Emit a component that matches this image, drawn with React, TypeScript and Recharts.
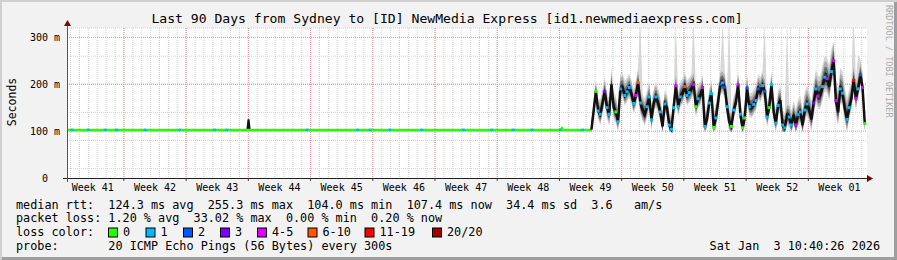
import React from "react";
import { ComposedChart, Line, Area, Scatter, XAxis, YAxis, CartesianGrid } from "recharts";

const FONT = '"DejaVu Sans Mono", monospace';

// time axis is in days since the start of the 90 day window
const WEEK_NAMES = ["Week 41", "Week 42", "Week 43", "Week 44", "Week 45", "Week 46", "Week 47", "Week 48", "Week 49", "Week 50", "Week 51", "Week 52", "Week 01"];
const WEEK_BOUNDS = [6.4, 13.4, 20.4, 27.4, 34.4, 41.4, 48.4, 55.4, 62.4, 69.4, 76.4, 83.4];
const Y_TICKS = [0, 100, 200, 300];

// quiet period: median rtt (ms) before the route change
const FLAT_DAYS = [0, 5, 10, 15, 20, 25, 30, 35, 40, 45, 50, 55.55, 55.68, 55.8, 59];
const FLAT_RTT = [102.5, 102.5, 102.5, 102.5, 102.5, 102.5, 102.5, 102.5, 102.5, 102.5, 102.5, 102.5, 106, 102.5, 102.5];
const FLAT_CYAN_DAYS = [0.6, 2.4, 4.3, 5.6, 8.8, 12.7, 16.6, 18.0, 27.0, 32.7, 34.1, 36.3, 39.9, 44.6, 47.8, 50.2, 52.3, 55.5, 58.0];
const FLAT_LEVEL = 102.5;
// short excursion in week 43
const BLIP_DAYS = [20.3, 20.42, 20.55];
const BLIP_RTT = [103, 125, 103];

// busy period: one median every 6h from day 59
const SAMPLE_START = 59;
const SAMPLE_STEP = 0.25;
const RTT_MEDIAN = [
  103, 143, 185, 143, 136, 160, 184, 150, 136, 200,
  150, 141, 120, 190, 193, 176, 184, 193, 180, 159,
  176, 204, 160, 145, 135, 152, 173, 124, 160, 173,
  160, 141, 110, 158, 150, 113, 104, 150, 197, 152,
  173, 180, 195, 176, 182, 190, 199, 152, 169, 175,
  193, 110, 125, 160, 180, 108, 128, 162, 200, 203,
  194, 152, 120, 110, 145, 160, 199, 136, 107, 128,
  192, 152, 150, 157, 165, 190, 183, 197, 185, 130,
  150, 199, 140, 117, 155, 166, 113, 107, 134, 130,
  113, 135, 113, 135, 141, 113, 145, 158, 145, 125,
  160, 190, 175, 176, 195, 215, 212, 195, 227, 250,
  165, 140, 190, 181, 148, 125, 150, 170, 208, 170,
  190, 220, 193, 116,
];
// loss colour index per sample (null = marker hidden in the smoke)
const LOSS = [
  null, null, 0, 1, 1, null, 3, 1, 1, null,
  null, 0, 1, 1, null, 1, 1, 1, null, 1,
  4, 5, 1, null, null, 1, 1, 1, null, 1,
  null, 1, null, 1, null, 1, 1, 1, 4, 1,
  1, null, 5, 1, 1, null, 4, 0, 1, null,
  4, 1, null, 1, 1, 0, 1, null, 2, 1,
  2, 1, null, 0, 1, null, 4, 1, 0, 0,
  2, 1, null, 1, 1, 2, null, 1, 2, 1,
  0, 1, null, 1, 1, null, 1, 1, null, 1,
  1, null, 4, 1, 1, null, 1, 1, null, null,
  3, 1, 4, null, 1, 1, 4, null, 1, 4,
  4, null, 1, 1, null, 1, 1, null, 6, 4,
  1, 2, 4, 0,
];
// smoke spread per day (ms above / below the median)
const SMOKE_UP = [26, 32, 34, 32, 30, 33, 35, 32, 30, 30, 33, 32, 30, 30, 32, 33, 30, 30, 32, 33, 30, 32, 30, 34, 40, 42, 46, 50, 46, 40, 34];
const SMOKE_DOWN = [18, 24, 25, 22, 22, 24, 24, 22, 20, 20, 22, 22, 20, 20, 22, 22, 20, 20, 22, 22, 20, 22, 22, 24, 25, 28, 30, 30, 28, 25, 22];
const SPIKE_DAYS = [64.4, 68.6, 70.4, 73.8, 74.4, 78.5, 81.0, 86.2, 88.4, 89.1];
const SPIKE_MAX = [340, 330, 335, 330, 340, 325, 335, 290, 345, 262];
const SMOKE_FLOOR = 98;

const LOSS_COLORS = ["#26ff00", "#00b8ff", "#0059ff", "#7e00ff", "#dd00ff", "#ff5500", "#ff0000", "#a10000"];
const LOSS_LABELS = ["0", "1", "2", "3", "4-5", "6-10", "11-19", "20/20"];
const LEGEND_X = [108, 145.5, 183, 220, 257, 307.5, 364.5, 432];

const rows: any[] = [];
FLAT_DAYS.forEach((t, i) => rows.push({ t, flat: FLAT_RTT[i] }));
BLIP_DAYS.forEach((t, i) => rows.push({ t, blip: BLIP_RTT[i] }));
rows.sort((a, b) => a.t - b.t);
RTT_MEDIAN.forEach((m, i) => {
  const t = SAMPLE_START + i * SAMPLE_STEP;
  const day = Math.min(SMOKE_UP.length - 1, Math.floor(t - SAMPLE_START));
  const up = SMOKE_UP[day];
  const down = SMOKE_DOWN[day];
  const s = SPIKE_DAYS.findIndex((d) => Math.round((d - SAMPLE_START) / SAMPLE_STEP) === i);
  const top = s >= 0 ? SPIKE_MAX[s] : m + up;
  const lo = (f: number) => Math.max(SMOKE_FLOOR, m - down * f);
  rows.push({
    t,
    median: m,
    loss: LOSS[i],
    s0: [lo(1), top],
    s1: [lo(0.8), m + up * 0.75],
    s2: [lo(0.55), m + up * 0.5],
    s3: [lo(0.3), m + up * 0.25],
  });
});

const weekMids = WEEK_NAMES.map((_, i) => WEEK_BOUNDS[0] - 3.5 + 7 * i);
const xTicks = [...weekMids, ...WEEK_BOUNDS].sort((a, b) => a - b);
const dayLines = Array.from({ length: 90 }, (_, k) => 0.4 + k);
const minorY = Array.from({ length: 16 }, (_, k) => 20 * (k + 1));

function WeekTick(props: any) {
  const { x, y, payload } = props;
  const mid = weekMids.indexOf(payload.value);
  if (mid < 0) return <line x1={x} x2={x} y1={y} y2={y + 3} stroke="#444" />;
  return (
    <text x={x} y={y + 12.5} textAnchor="middle" fontSize={10} fontFamily={FONT} fill="#000">
      {WEEK_NAMES[mid]}
    </text>
  );
}

function SecTick(props: any) {
  const { x, y, payload } = props;
  const v = payload.value;
  return (
    <text x={v === 0 ? x - 12 : x} y={y + 3.5} textAnchor="end" fontSize={10} fontFamily={FONT} fill="#000">
      {v === 0 ? "0" : `${v} m`}
    </text>
  );
}

const lossDot = (p: any) => {
  const k = p.payload ? p.payload.loss : null;
  if (k == null || p.cx == null || p.cy == null) return <g key={`d${p.index}`} />;
  return <rect key={`d${p.index}`} x={p.cx - 1.5} y={p.cy - 1.5} width={3} height={3} fill={LOSS_COLORS[k]} />;
};

const legendLines = [
  "median rtt:  124.3 ms avg  255.3 ms max  104.0 ms min  107.4 ms now  34.4 ms sd  3.6   am/s",
  "packet loss: 1.20 % avg  33.02 % max  0.00 % min  0.20 % now",
];

export default function App() {
  return (
    <div
      style={{
        position: "relative",
        width: 897,
        height: 260,
        background: "#f2f2f2",
        boxShadow: "inset 2px 2px 0 #d0d0d0, inset -3px -3px 0 #9e9e9e",
      }}
    >
      <style>{"body{margin:0}"}</style>
      <div style={{ position: "absolute", left: 0, top: 0 }}>
        <ComposedChart width={897} height={260} data={rows} margin={{ top: 28, right: 30, bottom: 62, left: 7 }}>
          <CartesianGrid fill="#ffffff" stroke="#d4d4d4" strokeDasharray="1 1" horizontalValues={minorY} verticalValues={dayLines} />
          <CartesianGrid stroke="#ee9090" strokeDasharray="1 1" horizontalValues={[100, 200, 300]} verticalValues={WEEK_BOUNDS} />
          <XAxis
            type="number"
            dataKey="t"
            domain={[0, 90]}
            ticks={xTicks}
            interval={0}
            tick={<WeekTick />}
            tickLine={false}
            axisLine={false}
            tickSize={0}
            tickMargin={0}
            height={20}
          />
          <YAxis
            type="number"
            domain={[0, 320]}
            ticks={Y_TICKS}
            allowDataOverflow
            tick={<SecTick />}
            tickLine={false}
            axisLine={false}
            tickSize={0}
            tickMargin={7}
            width={60}
          />
          <Area dataKey="s0" stroke="none" fill="#d6d6d6" fillOpacity={1} isAnimationActive={false} />
          <Area dataKey="s1" stroke="none" fill="#adadad" fillOpacity={1} isAnimationActive={false} />
          <Area dataKey="s2" stroke="none" fill="#6e6e6e" fillOpacity={1} isAnimationActive={false} />
          <Area dataKey="s3" stroke="none" fill="#2a2a2a" fillOpacity={1} isAnimationActive={false} />
          <Line dataKey="blip" stroke="#111111" strokeWidth={2} dot={false} activeDot={false} isAnimationActive={false} />
          <Line dataKey="flat" connectNulls stroke="#26ff00" strokeWidth={2.5} dot={false} activeDot={false} isAnimationActive={false} />
          <Scatter
            data={FLAT_CYAN_DAYS.map((t) => ({ t, v: FLAT_LEVEL }))}
            dataKey="v"
            isAnimationActive={false}
            shape={(p: any) => <rect x={p.cx - 1.5} y={p.cy - 1.25} width={3} height={2.5} fill={LOSS_COLORS[1]} />}
          />
          <Line dataKey="median" stroke="#111111" strokeWidth={2.5} dot={lossDot} activeDot={false} isAnimationActive={false} />
        </ComposedChart>
      </div>
      <svg width={897} height={260} style={{ position: "absolute", left: 0, top: 0, pointerEvents: "none" }} fontFamily={FONT}>
        <line x1={63} x2={868} y1={178.5} y2={178.5} stroke="#222" />
        <line x1={67.5} x2={67.5} y1={24} y2={182} stroke="#555" />
        <polygon points="64,26 71,26 67.5,20" fill="#7f0000" />
        <polygon points="867,175 867,182 873,178.5" fill="#7f0000" />
        <text x={447} y={23} textAnchor="middle" fontSize={13.1} fill="#000" style={{ whiteSpace: "pre" }}>
          Last 90 Days from Sydney to [ID] NewMedia Express [id1.newmediaexpress.com]
        </text>
        <text transform="translate(15.5,102) rotate(-90)" textAnchor="middle" fontSize={11.5} fill="#000">
          Seconds
        </text>
        <text transform="translate(885.5,5) rotate(90)" fontSize={8.5} fill="#ababab">
          RRDTOOL / TOBI OETIKER
        </text>
        {legendLines.map((s, i) => (
          <text key={s} x={16} y={208.5 + 13.7 * i} fontSize={11.8} fill="#000" style={{ whiteSpace: "pre" }}>
            {s}
          </text>
        ))}
        <text x={16} y={235.9} fontSize={11.8} fill="#000">loss color:</text>
        {LOSS_LABELS.map((l, i) => (
          <g key={l}>
            <rect x={LEGEND_X[i] + 0.5} y={228} width={9} height={9} fill={LOSS_COLORS[i]} stroke="#000" />
            <text x={LEGEND_X[i] + 15} y={235.9} fontSize={11.8} fill="#000">{l}</text>
          </g>
        ))}
        <text x={16} y={249.6} fontSize={11.8} fill="#000" style={{ whiteSpace: "pre" }}>
          {"probe:       20 ICMP Echo Pings (56 Bytes) every 300s"}
        </text>
        <text x={880} y={249.6} textAnchor="end" fontSize={11.8} fill="#000" style={{ whiteSpace: "pre" }}>
          {"Sat Jan  3 10:40:26 2026"}
        </text>
      </svg>
    </div>
  );
}
